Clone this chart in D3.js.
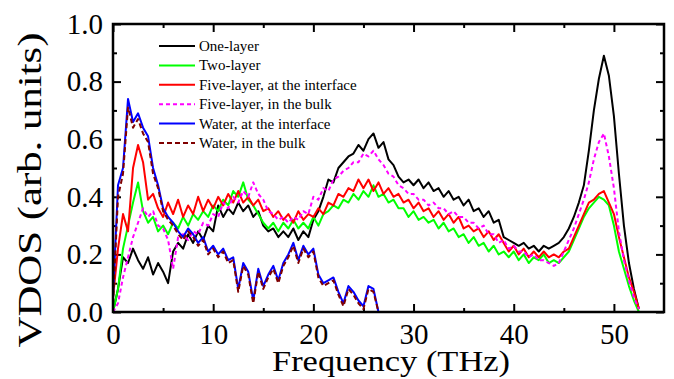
<!DOCTYPE html>
<html>
<head>
<meta charset="utf-8">
<script src="https://cdn.jsdelivr.net/npm/d3@7"></script>
<style>
  body { margin: 0; background: #fff; }
  svg text { font-family: "Liberation Serif", "Times New Roman", serif; fill: #000; }
</style>
</head>
<body>
<div id="chart"></div>
<script>
// frequency grid (THz)
var freq = [
  0,0.5,1,1.5,2,2.5,3,3.5,4,4.5, 5,5.5,6,6.5,7,7.5,8,8.5,9,9.5,
  10,10.5,11,11.5,12,12.5,13,13.5,14,14.5, 15,15.5,16,16.5,17,17.5,18,18.5,19,19.5,
  20,20.5,21,21.5,22,22.5,23,23.5,24,24.5, 25,25.5,26,26.5,27,27.5,28,28.5,29,29.5,
  30,30.5,31,31.5,32,32.5,33,33.5,34,34.5, 35,35.5,36,36.5,37,37.5,38,38.5,39,39.5,
  40,40.5,41,41.5,42,42.5,43,43.5,44,44.5, 45,45.5,46,46.5,47,47.5,48,48.5,49,49.5,
  50,50.5,51,51.5,52,52.5
];

var oneLayer = [
  0.00,0.08,0.19,0.17,0.22,0.18,0.15,0.19,0.13,0.17, 0.14,0.10,0.21,0.24,0.22,0.27,0.24,0.28,0.25,0.30,
  0.28,0.37,0.33,0.36,0.34,0.38,0.35,0.37,0.33,0.35, 0.30,0.28,0.29,0.26,0.28,0.26,0.29,0.25,0.28,0.26,
  0.32,0.35,0.40,0.46,0.45,0.50,0.52,0.54,0.55,0.58, 0.56,0.60,0.62,0.57,0.59,0.53,0.51,0.47,0.45,0.46,
  0.44,0.46,0.43,0.45,0.42,0.43,0.40,0.42,0.39,0.40, 0.37,0.39,0.35,0.36,0.33,0.35,0.31,0.32,0.26,0.25,
  0.24,0.23,0.24,0.22,0.23,0.21,0.23,0.22,0.23,0.24, 0.26,0.29,0.33,0.38,0.44,0.56,0.70,0.81,0.89,0.82,
  0.68,0.48,0.30,0.17,0.08,0.01
];
var twoLayer = [
  0.00,0.08,0.22,0.30,0.38,0.45,0.35,0.31,0.33,0.28, 0.30,0.27,0.31,0.29,0.33,0.30,0.34,0.32,0.35,0.33,
  0.37,0.35,0.39,0.37,0.42,0.40,0.45,0.39,0.37,0.34, 0.31,0.29,0.31,0.28,0.31,0.29,0.32,0.29,0.31,0.29,
  0.33,0.30,0.34,0.35,0.37,0.36,0.39,0.38,0.41,0.39, 0.42,0.40,0.44,0.40,0.41,0.38,0.39,0.36,0.36,0.33,
  0.35,0.32,0.33,0.31,0.32,0.29,0.31,0.28,0.29,0.26, 0.27,0.24,0.26,0.23,0.24,0.21,0.23,0.20,0.21,0.19,
  0.21,0.18,0.20,0.17,0.19,0.18,0.20,0.17,0.18,0.17, 0.19,0.21,0.25,0.29,0.33,0.36,0.38,0.40,0.39,0.37,
  0.30,0.21,0.15,0.09,0.04,0.00
];
var fiveInterface = [
  0.05,0.22,0.34,0.28,0.50,0.58,0.52,0.39,0.41,0.36, 0.33,0.38,0.34,0.39,0.33,0.37,0.34,0.40,0.35,0.39,
  0.36,0.40,0.37,0.41,0.38,0.42,0.38,0.40,0.37,0.39, 0.35,0.36,0.33,0.35,0.32,0.34,0.31,0.35,0.32,0.34,
  0.33,0.36,0.34,0.38,0.37,0.41,0.40,0.43,0.42,0.46, 0.43,0.46,0.42,0.45,0.41,0.43,0.40,0.41,0.38,0.39,
  0.36,0.38,0.35,0.36,0.33,0.35,0.32,0.34,0.31,0.33, 0.29,0.30,0.28,0.29,0.26,0.28,0.25,0.27,0.24,0.21,
  0.23,0.20,0.22,0.19,0.21,0.19,0.21,0.19,0.20,0.19, 0.21,0.22,0.26,0.30,0.34,0.38,0.39,0.41,0.42,0.38,
  0.34,0.26,0.19,0.12,0.07,0.01
];
var fiveBulk = [
  0.00,0.03,0.12,0.19,0.26,0.31,0.36,0.33,0.35,0.30, 0.29,0.25,0.15,0.26,0.27,0.25,0.28,0.27,0.31,0.30,
  0.34,0.33,0.38,0.36,0.40,0.38,0.42,0.40,0.45,0.41, 0.39,0.35,0.34,0.32,0.33,0.31,0.33,0.32,0.35,0.34,
  0.40,0.39,0.43,0.42,0.46,0.47,0.49,0.50,0.52,0.52, 0.55,0.54,0.56,0.53,0.51,0.48,0.47,0.44,0.43,0.41,
  0.41,0.39,0.39,0.37,0.38,0.36,0.36,0.34,0.35,0.33, 0.33,0.31,0.31,0.29,0.30,0.27,0.27,0.24,0.25,0.22,
  0.23,0.21,0.21,0.19,0.20,0.18,0.18,0.17,0.16,0.17, 0.21,0.25,0.29,0.34,0.39,0.45,0.53,0.59,0.62,0.54,
  0.43,0.28,0.18,0.11,0.05,0.01
];
var waterInterface = [
  0.05,0.44,0.50,0.74,0.66,0.69,0.64,0.61,0.50,0.44, 0.36,0.33,0.31,0.28,0.26,0.29,0.27,0.24,0.26,0.21,
  0.23,0.20,0.22,0.18,0.19,0.08,0.17,0.14,0.04,0.15, 0.09,0.13,0.16,0.11,0.17,0.20,0.24,0.18,0.23,0.20,
  0.22,0.13,0.10,0.11,0.12,0.07,0.03,0.09,0.07,0.04, 0.02,0.09,0.08,0.00
];
var waterBulk = [
  0.03,0.40,0.48,0.71,0.64,0.67,0.62,0.59,0.48,0.43, 0.35,0.32,0.30,0.27,0.25,0.28,0.26,0.23,0.25,0.20,
  0.22,0.19,0.21,0.17,0.18,0.07,0.16,0.13,0.03,0.14, 0.08,0.12,0.15,0.10,0.16,0.19,0.23,0.17,0.22,0.19,
  0.21,0.12,0.09,0.10,0.11,0.06,0.02,0.08,0.06,0.03, 0.01,0.08,0.07,0.00
];

var seriesNames = ["One-layer", "Two-layer", "Five-layer, at the interface",
                   "Five-layer, in the bulk", "Water, at the interface", "Water, in the bulk"];
var seriesValues = [oneLayer, twoLayer, fiveInterface, fiveBulk, waterInterface, waterBulk];
var seriesColors = ["#000000", "#00ff00", "#ff0000", "#ff00ff", "#0000ff", "#800000"];
var seriesDash = [null, null, null, "4,3", null, "5,3"];

var xMajor = [0, 10, 20, 30, 40, 50];
var xMinor = [5, 15, 25, 35, 45];
var yMajor = [0, 0.2, 0.4, 0.6, 0.8, 1.0];
var yMinor = [0.1, 0.3, 0.5, 0.7, 0.9];

var w = 674, h = 379;
var pLeft = 113, pRight = 664, pTop = 24, pBottom = 312;

var svg = d3.select("#chart").append("svg")
    .attr("width", w)
    .attr("height", h);

var x = d3.scaleLinear().domain([0, 55]).range([pLeft, pRight]);
var y = d3.scaleLinear().domain([0, 1]).range([pBottom, pTop]);

// axes (ticks point inward)
function styleAxis(g) {
  g.select(".domain").remove();
  g.selectAll(".tick line").attr("stroke", "#000").attr("stroke-width", 2);
}

svg.append("g").attr("transform", "translate(0," + pBottom + ")")
  .call(d3.axisBottom(x).tickValues(xMajor).tickSize(-8).tickPadding(11).tickFormat(d3.format("d")))
  .call(styleAxis)
  .selectAll("text").attr("font-size", "29px").attr("font-family", "Liberation Serif");
svg.append("g").attr("transform", "translate(0," + pBottom + ")")
  .call(d3.axisBottom(x).tickValues(xMinor).tickSize(-4).tickFormat(""))
  .call(styleAxis);
svg.append("g").attr("transform", "translate(0," + pTop + ")")
  .call(d3.axisTop(x).tickValues(xMajor).tickSize(-8).tickFormat(""))
  .call(styleAxis);
svg.append("g").attr("transform", "translate(0," + pTop + ")")
  .call(d3.axisTop(x).tickValues(xMinor).tickSize(-4).tickFormat(""))
  .call(styleAxis);

svg.append("g").attr("transform", "translate(" + pLeft + ",0)")
  .call(d3.axisLeft(y).tickValues(yMajor).tickSize(-8).tickPadding(10).tickFormat(d3.format(".1f")))
  .call(styleAxis)
  .selectAll("text").attr("font-size", "29px").attr("font-family", "Liberation Serif");
svg.append("g").attr("transform", "translate(" + pLeft + ",0)")
  .call(d3.axisLeft(y).tickValues(yMinor).tickSize(-4).tickFormat(""))
  .call(styleAxis);
svg.append("g").attr("transform", "translate(" + pRight + ",0)")
  .call(d3.axisRight(y).tickValues(yMajor).tickSize(-8).tickFormat(""))
  .call(styleAxis);
svg.append("g").attr("transform", "translate(" + pRight + ",0)")
  .call(d3.axisRight(y).tickValues(yMinor).tickSize(-4).tickFormat(""))
  .call(styleAxis);

// curves
var line = d3.line()
  .x(function(d) { return x(d[0]); })
  .y(function(d) { return y(d[1]); });

seriesValues.forEach(function(vals, i) {
  var pts = vals.map(function(v, j) { return [freq[j], v]; });
  svg.append("path")
    .datum(pts)
    .attr("d", line)
    .attr("fill", "none")
    .attr("stroke", seriesColors[i])
    .attr("stroke-width", 2)
    .attr("stroke-linejoin", "round")
    .attr("stroke-dasharray", seriesDash[i]);
});

// frame
svg.append("rect")
  .attr("x", pLeft).attr("y", pTop)
  .attr("width", pRight - pLeft).attr("height", pBottom - pTop)
  .attr("fill", "none").attr("stroke", "#000").attr("stroke-width", 2.5);

// axis titles
svg.append("text")
  .attr("x", 391).attr("y", 371)
  .attr("text-anchor", "middle")
  .attr("font-size", "30px")
  .attr("textLength", 238).attr("lengthAdjust", "spacingAndGlyphs")
  .text("Frequency (THz)");

svg.append("text")
  .attr("transform", "translate(41,190) rotate(-90)")
  .attr("text-anchor", "middle")
  .attr("font-size", "33px")
  .attr("textLength", 315).attr("lengthAdjust", "spacingAndGlyphs")
  .text("VDOS (arb. units)");

// legend
var legend = svg.append("g");
seriesNames.forEach(function(name, i) {
  var ly = 46 + i * 19.4;
  legend.append("line")
    .attr("x1", 159).attr("x2", 195)
    .attr("y1", ly).attr("y2", ly)
    .attr("stroke", seriesColors[i])
    .attr("stroke-width", 2)
    .attr("stroke-dasharray", seriesDash[i]);
  legend.append("text")
    .attr("x", 199).attr("y", ly + 5)
    .attr("font-size", "15px")
    .text(name);
});
</script>
</body>
</html>
